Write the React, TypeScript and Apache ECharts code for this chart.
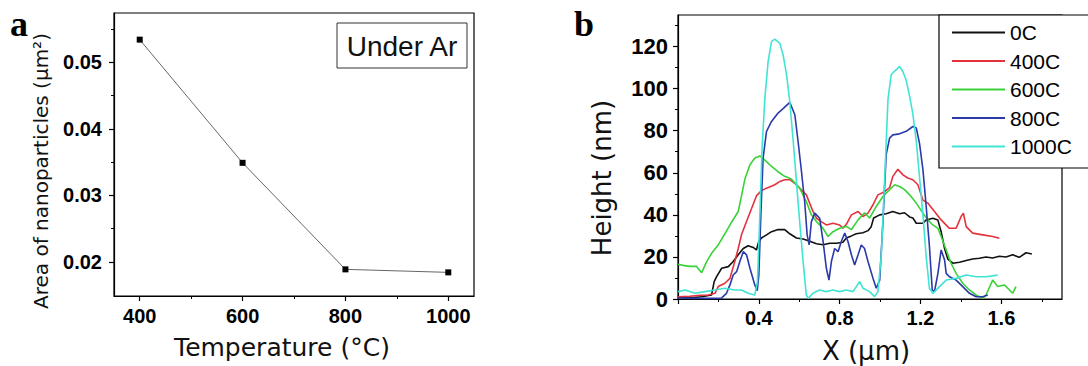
import React, { useEffect, useRef } from "react";
import * as echarts from "echarts";

// ---------- Panel a data ----------
const temperatures = [400, 600, 800, 1000];
const particleAreas = [0.0534, 0.0349, 0.0189, 0.01845];
const tempTicks = [400, 600, 800, 1000];
const tempMinorTicks = [500, 700, 900];
const areaTicks = [0.02, 0.03, 0.04, 0.05];
const areaMinorTicks = [0.025, 0.035, 0.045, 0.055];

// ---------- Panel b data ----------
const xLabelTicks = [0.4, 0.8, 1.2, 1.6];
const xMajorTicks = [0, 0.4, 0.8, 1.2, 1.6];
const xMinorTicks = [0.2, 0.6, 1.0, 1.4, 1.8];
const heightTicks = [0, 20, 40, 60, 80, 100, 120];
const heightMinorTicks = [10, 30, 50, 70, 90, 110, 130];
const legendNames = ["0C", "400C", "600C", "800C", "1000C"];
const lineColors = ["#111111", "#e3323c", "#3ad23a", "#2b3aa8", "#40e4d4"];

const profile0C: [number, number][] = [
  [0, 1.1], [0.051, 0.5], [0.117, 1.1], [0.166, 1.9], [0.179, 8.3], [0.191, 10.6], [0.216, 14.6],
  [0.249, 15.4], [0.273, 17.8], [0.298, 21], [0.323, 24], [0.347, 25.3], [0.372, 24.5], [0.388, 23.3],
  [0.4, 27.5], [0.413, 29], [0.438, 30.5], [0.463, 32], [0.495, 33], [0.528, 33], [0.553, 31],
  [0.586, 29], [0.619, 28.5], [0.652, 27.5], [0.685, 26.3], [0.718, 25.8], [0.751, 26.5], [0.784, 26.5],
  [0.816, 27], [0.833, 29], [0.858, 30], [0.882, 31], [0.915, 31.5], [0.94, 32.5], [0.956, 34.4],
  [0.968, 38.5], [0.998, 40], [1.03, 40.5], [1.063, 41.6], [1.096, 40.5], [1.121, 41], [1.146, 39],
  [1.162, 38.5], [1.179, 36], [1.212, 36], [1.228, 37.6], [1.261, 38.4], [1.286, 37.5], [1.302, 32],
  [1.319, 24], [1.335, 19], [1.36, 17], [1.393, 17.5], [1.426, 18.3], [1.458, 19], [1.491, 19.4],
  [1.524, 20], [1.557, 19.5], [1.59, 20.3], [1.623, 20], [1.656, 21], [1.689, 19.8], [1.722, 22], [1.751, 21.4],
];

const profile400C: [number, number][] = [
  [0, 1], [0.059, 1.3], [0.109, 1.8], [0.15, 1.9], [0.183, 2.7], [0.199, 5.9], [0.232, 7.5], [0.257, 9.8],
  [0.281, 17.8], [0.298, 24], [0.314, 30.5], [0.339, 36.8], [0.364, 43], [0.388, 49], [0.413, 51.5],
  [0.438, 52.7], [0.479, 54.3], [0.504, 55.9], [0.528, 56.7], [0.553, 56.7], [0.578, 55], [0.602, 52.7],
  [0.635, 49.5], [0.668, 41.6], [0.685, 38.4], [0.709, 36.8], [0.734, 35.2], [0.767, 36], [0.8, 35.2],
  [0.816, 33.6], [0.833, 35.5], [0.858, 40], [0.891, 41.6], [0.915, 39.2], [0.94, 40.8], [0.965, 44.8],
  [0.989, 49.5], [1.022, 51], [1.047, 53], [1.063, 58.3], [1.088, 61.7], [1.113, 59], [1.137, 57.5],
  [1.162, 56.7], [1.187, 54.3], [1.212, 47], [1.236, 45.6], [1.269, 41.6], [1.302, 37.6], [1.343, 33.6],
  [1.376, 33.6], [1.401, 39.2], [1.412, 40.8], [1.426, 34.4], [1.458, 31.3], [1.508, 30.5], [1.557, 29.7], [1.59, 28.9],
];

const profile600C: [number, number][] = [
  [0, 16.5], [0.026, 16], [0.059, 15.5], [0.092, 15.5], [0.117, 12.5], [0.142, 17.8], [0.166, 21.7],
  [0.199, 25.7], [0.232, 31], [0.265, 36.5], [0.298, 41.6], [0.314, 49], [0.331, 57], [0.356, 63.8],
  [0.38, 67], [0.405, 68], [0.43, 66], [0.463, 63], [0.495, 60.5], [0.528, 58.3], [0.561, 57], [0.602, 52.7],
  [0.635, 46.3], [0.66, 40], [0.685, 36.8], [0.718, 33.6], [0.742, 29.7], [0.767, 32], [0.8, 33.6],
  [0.833, 34.5], [0.858, 33], [0.891, 37.6], [0.923, 41], [0.948, 38.5], [0.981, 44], [1.014, 48.7],
  [1.047, 52], [1.072, 54.3], [1.096, 53.5], [1.121, 52], [1.146, 49.5], [1.179, 45.6], [1.212, 40.8],
  [1.236, 37.6], [1.261, 35.2], [1.286, 33.6], [1.302, 29.7], [1.327, 23.3], [1.351, 17], [1.376, 12.2],
  [1.409, 7.5], [1.442, 4.3], [1.475, 1.9], [1.508, 0.3], [1.524, 1.9], [1.557, 9], [1.582, 5.9],
  [1.615, 6.7], [1.64, 4.3], [1.656, 2.7], [1.672, 5.9],
];

const profile800C: [number, number][] = [
  [0, 0.5], [0.084, 0.3], [0.183, 0.3], [0.216, 0.5], [0.24, 2.7], [0.257, 6.7], [0.273, 11.4], [0.29, 13],
  [0.306, 17.8], [0.323, 22.5], [0.339, 21], [0.356, 14.6], [0.38, 6.7], [0.392, 4], [0.4, 11.4], [0.41, 40],
  [0.421, 67], [0.438, 79.7], [0.463, 84.4], [0.495, 88.4], [0.52, 90.5], [0.553, 93.5], [0.578, 87.6],
  [0.594, 75], [0.611, 60.6], [0.627, 46], [0.639, 30.5], [0.649, 25.7], [0.66, 36.8], [0.677, 40.8],
  [0.701, 38.4], [0.718, 27.3], [0.734, 14.6], [0.747, 9], [0.759, 17.8], [0.775, 24], [0.792, 22.5],
  [0.808, 27.3], [0.825, 31.3], [0.841, 27.3], [0.858, 21], [0.874, 16.2], [0.891, 21], [0.907, 25.7],
  [0.923, 24], [0.94, 17.8], [0.965, 9.8], [0.981, 5.1], [0.998, 9], [1.014, 36.8], [1.03, 68.6],
  [1.047, 76.5], [1.063, 78], [1.096, 78.5], [1.129, 79.7], [1.162, 82], [1.179, 81.3], [1.195, 74],
  [1.212, 61.4], [1.228, 44], [1.244, 25], [1.258, 4.3], [1.269, 3.5], [1.286, 12.2], [1.302, 23.3],
  [1.319, 18.6], [1.327, 12.2], [1.343, 10.6], [1.376, 9], [1.409, 5.9], [1.442, 2.7], [1.475, 1.1],
  [1.508, 1.1], [1.533, 1.9],
];

const profile1000C: [number, number][] = [
  [0, 3.5], [0.035, 4.3], [0.084, 2.7], [0.133, 3.5], [0.183, 4.3], [0.232, 5.1], [0.281, 4.3], [0.314, 4.3],
  [0.347, 2.7], [0.38, 1.9], [0.393, 8.3], [0.405, 40], [0.416, 71.7], [0.43, 95.6], [0.446, 113],
  [0.463, 122.5], [0.479, 123.5], [0.504, 121.5], [0.52, 116], [0.537, 106.7], [0.553, 94], [0.57, 75],
  [0.586, 55.9], [0.602, 36.8], [0.619, 17.8], [0.635, 1.9], [0.644, 0.3], [0.668, 2.7], [0.701, 4.3],
  [0.734, 3.5], [0.767, 4.3], [0.8, 3.5], [0.833, 4.3], [0.866, 3.5], [0.899, 8.3], [0.915, 5.1],
  [0.948, 3.5], [0.973, 1.1], [0.989, 3.5], [1.006, 21], [1.022, 55.9], [1.039, 95], [1.055, 106.7],
  [1.08, 109], [1.096, 110.6], [1.113, 108], [1.129, 104], [1.146, 96.3], [1.162, 88], [1.179, 75],
  [1.195, 58], [1.212, 40], [1.228, 20], [1.244, 5.1], [1.261, 2.7], [1.294, 5.9], [1.327, 9], [1.376, 9.8],
  [1.426, 11.4], [1.475, 10.6], [1.524, 10.6], [1.557, 11], [1.582, 11.4],
];

const profiles = [profile0C, profile400C, profile600C, profile800C, profile1000C];

const SANS = '"Liberation Sans", Arial, Helvetica, sans-serif';
const WIDE = '"DejaVu Sans", Verdana, sans-serif';
const SERIF = '"Liberation Serif", "Times New Roman", serif';

const plainNumber = (v: number) => String(v);

function majorAxis(gridIndex: number, min: number, max: number, ticks: number[], labels: number[], position: string, margin: number, fontSize: number) {
  return {
    type: "value",
    gridIndex,
    min,
    max,
    position,
    axisLine: { show: true, onZero: false, lineStyle: { color: "#000", width: 1.2 } },
    axisTick: { show: true, inside: false, length: 5, customValues: ticks, lineStyle: { color: "#000", width: 1.2 } },
    axisLabel: {
      show: true,
      customValues: labels,
      formatter: plainNumber,
      margin,
      color: "#000",
      fontSize,
      fontWeight: 700,
      fontFamily: SANS,
    },
    splitLine: { show: false },
  };
}

function minorAxis(gridIndex: number, min: number, max: number, ticks: number[], position: string) {
  return {
    type: "value",
    gridIndex,
    min,
    max,
    position,
    axisLine: { show: false, onZero: false },
    axisTick: { show: true, inside: false, length: 3, customValues: ticks, lineStyle: { color: "#000", width: 1 } },
    axisLabel: { show: false },
    splitLine: { show: false },
  };
}

export default function App() {
  const ref = useRef<HTMLDivElement>(null);

  useEffect(() => {
    if (!ref.current) return;
    const chart = echarts.init(ref.current, null, { renderer: "svg" });

    const option: any = {
      animation: false,
      backgroundColor: "#fff",
      grid: [
        { left: 114, top: 13, width: 360, height: 283, show: true, borderColor: "#000", borderWidth: 1.2, backgroundColor: "transparent", containLabel: false, outerBoundsMode: "none" },
        { left: 678, top: 15, width: 384, height: 284, show: true, borderColor: "#000", borderWidth: 1.2, backgroundColor: "transparent", containLabel: false, outerBoundsMode: "none" },
      ],
      xAxis: [
        majorAxis(0, 350, 1050, tempTicks, tempTicks, "bottom", 10, 20),
        minorAxis(0, 350, 1050, tempMinorTicks, "bottom"),
        majorAxis(1, 0, 1.9, xMajorTicks, xLabelTicks, "bottom", 9, 20),
        minorAxis(1, 0, 1.9, xMinorTicks, "bottom"),
      ],
      yAxis: [
        majorAxis(0, 0.0149, 0.0574, areaTicks, areaTicks, "left", 12, 20),
        minorAxis(0, 0.0149, 0.0574, areaMinorTicks, "left"),
        majorAxis(1, 0, 135, heightTicks, heightTicks, "left", 10, 22),
        minorAxis(1, 0, 135, heightMinorTicks, "left"),
      ],
      legend: {
        show: true,
        orient: "vertical",
        left: 952,
        top: 22,
        padding: 0,
        itemWidth: 53,
        itemHeight: 2,
        itemGap: 7.5,
        icon: "rect",
        selectedMode: false,
        data: legendNames,
        z: 10,
        textStyle: { fontSize: 21, fontFamily: SANS, color: "#000" },
      },
      series: [
        {
          name: "Area",
          type: "line",
          xAxisIndex: 0,
          yAxisIndex: 0,
          data: temperatures.map((t, i) => [t, particleAreas[i]]),
          symbol: "rect",
          symbolSize: 6,
          showSymbol: true,
          itemStyle: { color: "#000" },
          lineStyle: { color: "#666", width: 1 },
          z: 3,
        },
        ...legendNames.map((name, i) => ({
          name,
          type: "line",
          xAxisIndex: 2,
          yAxisIndex: 2,
          data: profiles[i],
          symbol: "none",
          showSymbol: false,
          color: lineColors[i],
          itemStyle: { color: lineColors[i] },
          lineStyle: { color: lineColors[i], width: 1.6 },
          z: 2,
        })),
      ],
      graphic: [
        {
          type: "rect",
          z: 5,
          shape: { x: 939, y: 15, width: 160, height: 153 },
          style: { fill: "#fff", stroke: "#000", lineWidth: 1.2 },
        },
        {
          type: "rect",
          z: 5,
          shape: { x: 337, y: 23, width: 130, height: 45 },
          style: { fill: "#fff", stroke: "#333", lineWidth: 1 },
        },
        {
          type: "text",
          z: 6,
          x: 402,
          y: 46,
          style: { text: "Under Ar", fill: "#111", fontSize: 28, fontFamily: SANS, textAlign: "center", verticalAlign: "middle" },
        },
        {
          type: "text",
          z: 6,
          x: 282,
          y: 347,
          style: { text: "Temperature (°C)", fill: "#111", fontSize: 25, fontFamily: WIDE, textAlign: "center", verticalAlign: "middle" },
        },
        {
          type: "text",
          z: 6,
          x: 41,
          y: 171,
          rotation: Math.PI / 2,
          style: { text: "Area of nanoparticles (µm²)", fill: "#111", fontSize: 20, fontFamily: WIDE, textAlign: "center", verticalAlign: "middle" },
        },
        {
          type: "text",
          z: 6,
          x: 866,
          y: 351,
          style: { text: "X (µm)", fill: "#111", fontSize: 26, fontFamily: WIDE, textAlign: "center", verticalAlign: "middle" },
        },
        {
          type: "text",
          z: 6,
          x: 602,
          y: 178,
          rotation: Math.PI / 2,
          style: { text: "Height (nm)", fill: "#111", fontSize: 26, fontFamily: WIDE, textAlign: "center", verticalAlign: "middle" },
        },
        {
          type: "text",
          z: 6,
          x: 10,
          y: 24,
          style: { text: "a", fill: "#000", fontSize: 36, fontWeight: "bold", fontFamily: SERIF, textAlign: "left", verticalAlign: "middle" },
        },
        {
          type: "text",
          z: 6,
          x: 574,
          y: 24,
          style: { text: "b", fill: "#000", fontSize: 36, fontWeight: "bold", fontFamily: SERIF, textAlign: "left", verticalAlign: "middle" },
        },
      ],
    };

    chart.setOption(option);
    return () => {
      chart.dispose();
    };
  }, []);

  return (
    <div
      ref={ref}
      style={{ position: "absolute", left: 0, top: 0, width: 1088, height: 366, background: "#fff" }}
    />
  );
}
